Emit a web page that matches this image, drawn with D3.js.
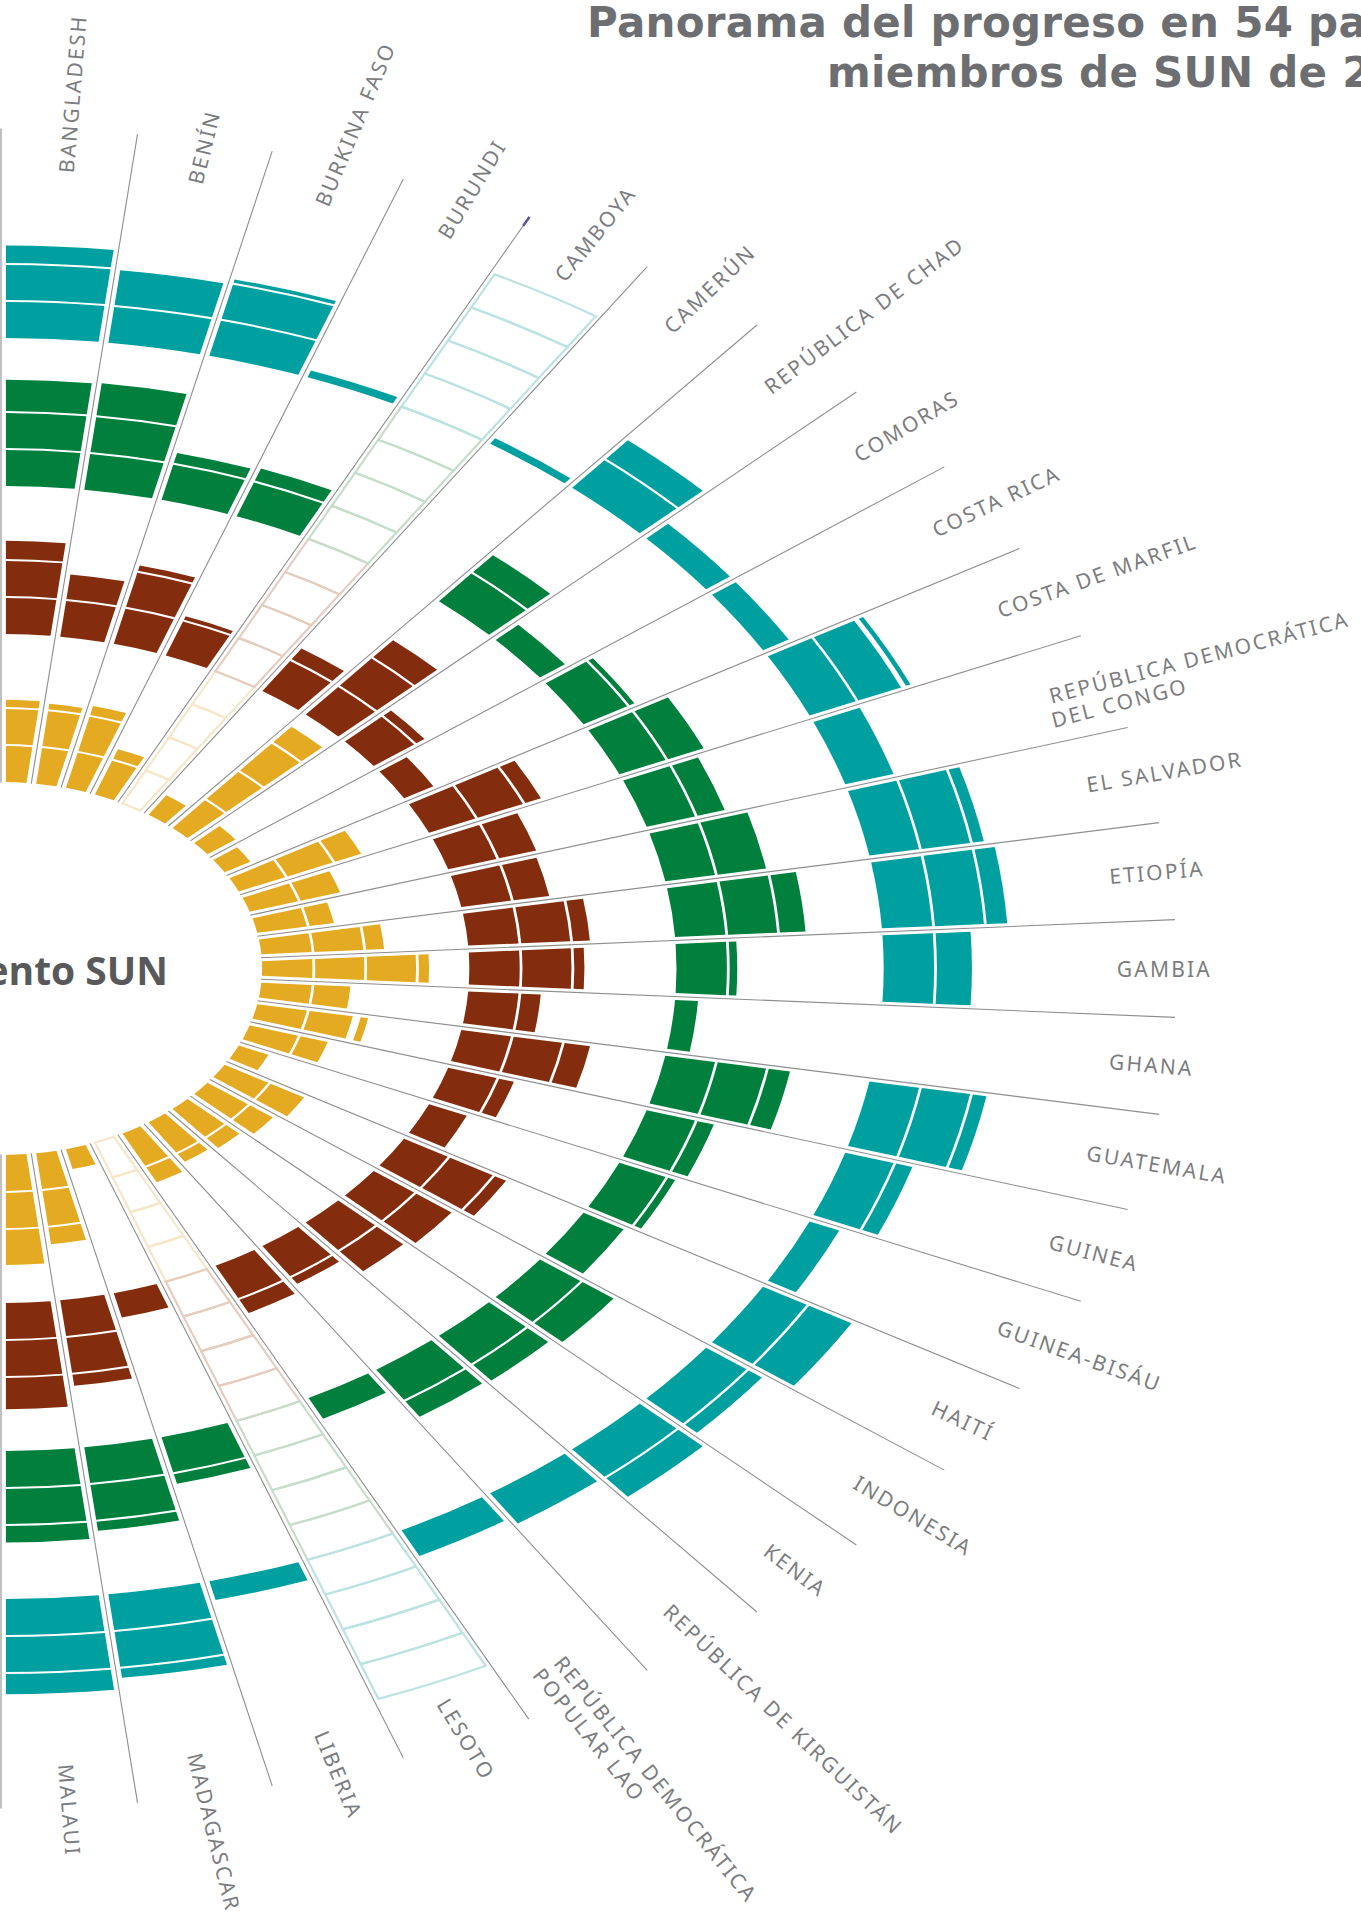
<!DOCTYPE html>
<html>
<head>
<meta charset="utf-8">
<script src="https://cdn.jsdelivr.net/npm/d3@7"></script>
<style>
  body { margin: 0; background: #fff; }
  svg { display: block; }
</style>
</head>
<body>
<div id="chart"></div>
<script>
// Countries, clockwise from the top (right half of the 54-country wheel).
const countries = [
  "BANGLADESH", "BENÍN", "BURKINA FASO", "BURUNDI", "CAMBOYA", "CAMERÚN",
  "REPÚBLICA DE CHAD", "COMORAS", "COSTA RICA", "COSTA DE MARFIL",
  "REPÚBLICA DEMOCRÁTICA|DEL CONGO", "EL SALVADOR", "ETIOPÍA", "GAMBIA",
  "GHANA", "GUATEMALA", "GUINEA", "GUINEA-BISÁU", "HAITÍ", "INDONESIA",
  "KENIA", "REPÚBLICA DE KIRGUISTÁN", "REPÚBLICA DEMOCRÁTICA|POPULAR LAO",
  "LESOTO", "LIBERIA", "MADAGASCAR", "MALAUI"
];

// Progress markers per process (fraction of each marker reached, stacked outward).
// null = no data (drawn as empty outline).
const proceso1 = [ // yellow, inner ring
  [1, 1, 0.25], [1, 1, 0.2], [1, 1, 0.3], [1, 0.33], null, [0.65],
  [1, 1, 1, 0.6], [0.7], [0.6], [1, 1, 0.6], [1, 0.85], [1, 0.53],
  [1, 1, 0.4], [1, 1, 1, 0.25], [1, 0.75], [1, 0.9, 0.2], [1, 0.6], [0.65],
  [1, 0.8], [1, 0.6], [1, 0.4], [1, 0.3], [1, 0.5], null, [0.58],
  [1, 1, 0.5], [1, 1, 1]
];
const proceso2 = [ // brown
  [1, 1, 0.55], [1, 0.72], [1, 1, 0.2], [1, 0.15], null, [1, 0.4],
  [1, 1, 0.65], [1, 0.25], [0.68], [1, 1, 0.38], [1, 0.8], [1, 0.75],
  [1, 1, 0.38], [1, 1, 0.25], [1, 0.43], [1, 1, 0.55], [1, 0.35], [0.82],
  [1, 1, 0.3], [1, 0.9], [1, 0.75], [1, 0.25], [1, 0.45], null, [0.7],
  [1, 1, 0.35], [1, 1, 0.9]
];
const proceso3 = [ // green
  [1, 1, 0.9], [1, 1, 0.92], [1, 0.33], [1, 0.4], null, [],
  [1, 0.65], [0.63], [1, 0.16], [1, 0.8], [1, 0.6], [1, 1],
  [1, 1, 0.55], [1, 0.2], [0.47], [1, 1, 0.47], [1, 0.38], [1, 0.2],
  [0.92], [1, 0.8], [1, 0.6], [1, 0.55], [0.65], null, [1, 0.32],
  [1, 1, 0.3], [1, 1, 0.5]
];
const proceso4 = [ // teal, outer ring
  [1, 1, 0.53], [1, 1], [1, 1, 0.15], [0.22], null, [0.2],
  [1, 0.7], [0.6], [0.6], [1, 0.95, 0.15], [1], [1, 1, 0.27],
  [1, 1, 0.45], [1, 0.73], [], [1, 1, 0.32], [1, 0.38], [0.65],
  [1, 1], [1, 0.37], [1, 0.7], [1], [0.8], null, [0.55],
  [1, 1, 0.3], [1, 1, 0.6]
];

const width = 1361;
const height = 1925;
const cx = 1;
const cy = 968.5;
const stretch = 1.4; // the wheel is drawn as a horizontally stretched circle

const svg = d3.select("#chart")
  .append("svg")
  .attr("width", width)
  .attr("height", height);

// Scales: one band per country over half a turn, 16 marker slots along the radius.
const angle = d3.scaleBand().domain(countries).range([0, Math.PI]);
const radius = d3.scaleLinear().domain([0, 16]).range([186.5, 778.5]);

const processes = [
  { values: proceso1, color: "#e3aa22", light: "#f6e7c8" },
  { values: proceso2, color: "#832d0e", light: "#e5cdbf" },
  { values: proceso3, color: "#007f3d", light: "#c7ddcb" },
  { values: proceso4, color: "#00a0a1", light: "#bde2e2" },
];

const plot = svg.append("g")
  .attr("transform", `translate(${cx},${cy}) scale(${stretch},1)`);

const arc = d3.arc().padRadius(200).padAngle(7 / 200);

// Cells.
processes.forEach((p, pi) => {
  countries.forEach((c, ci) => {
    const a0 = angle(c);
    const a1 = a0 + angle.bandwidth();
    const cells = p.values[ci];

    if (cells === null) {
      // No data: empty outlined cells.
      d3.range(4).forEach((k) => {
        plot.append("path")
          .attr("d", arc({
            innerRadius: radius(pi * 4 + k),
            outerRadius: radius(pi * 4 + k + 1),
            startAngle: a0,
            endAngle: a1,
          }))
          .attr("fill", "none")
          .attr("stroke", p.light)
          .attr("stroke-width", 2.2)
          .attr("vector-effect", "non-scaling-stroke");
      });
      return;
    }

    cells.forEach((v, k) => {
      const r0 = radius(pi * 4 + k) + (k ? 1 : 0);
      const r1 = Math.max(r0 + 1.5, radius(pi * 4 + k + v) - 1);
      plot.append("path")
        .attr("d", arc({ innerRadius: r0, outerRadius: r1, startAngle: a0, endAngle: a1 }))
        .attr("fill", p.color);
    });
  });
});

// Separator lines between countries.
const edges = d3.range(countries.length + 1).map((i) => i * angle.bandwidth());
const radial = d3.lineRadial();
plot.selectAll(".sep")
  .data(edges)
  .join("path")
  .attr("class", "sep")
  .attr("d", (a) => radial([[a, 186], [a, 840]]))
  .attr("fill", "none")
  .attr("stroke", "#8e8e8e")
  .attr("stroke-width", 1.1)
  .attr("vector-effect", "non-scaling-stroke");

// Small stray mark at the end of one separator, as in the original.
plot.append("path")
  .attr("d", radial([[edges[4], 831], [edges[4], 841]]))
  .attr("stroke", "#5a4ea0")
  .attr("stroke-width", 2.5)
  .attr("vector-effect", "non-scaling-stroke");

// Country labels, rotated along their (stretched) radial direction.
const labelR = 797;
countries.forEach((c) => {
  const a = angle(c) + angle.bandwidth() / 2;
  const dx = stretch * Math.sin(a);
  const dy = -Math.cos(a);
  const x = cx + labelR * dx;
  const y = cy + labelR * dy;
  const rot = Math.atan2(dy, dx) * 180 / Math.PI;
  const lines = c.split("|");
  const t = svg.append("text")
    .attr("transform", `translate(${x},${y}) rotate(${rot})`)
    .attr("font-family", "'Noto Sans', sans-serif")
    .attr("font-size", 21)
    .attr("letter-spacing", 2.2)
    .attr("fill", "#7c7d80");
  lines.forEach((ln, li) => {
    t.append("tspan")
      .attr("x", li ? -4 : 0)
      .attr("y", li * 24)
      .attr("dominant-baseline", "central")
      .text(ln);
  });
});

// Centre text (mostly off the page on the left).
svg.append("text")
  .attr("x", 168)
  .attr("y", 985)
  .attr("text-anchor", "end")
  .attr("font-family", "'Open Sans', sans-serif")
  .attr("font-weight", 700)
  .attr("font-size", 39)
  .attr("fill", "#58595b")
  .text("Movimiento SUN");

// Title (cut by the right edge).
const titleLines = [
  { text: "Panorama del progreso en 54 países", x: 587, y: 37 },
  { text: "miembros de SUN de 2016", x: 827, y: 87 },
];
const title = svg.append("g")
  .attr("font-family", "'DejaVu Sans', sans-serif")
  .attr("font-weight", 700)
  .attr("font-size", 42)
  .attr("fill", "#6d6e71");
// Fit the letter spacing so "Panorama del progreso en 54 pa" spans ~780px.
const probe = title.append("text").text("Panorama del progreso en 54 pa");
const natural = probe.node().getComputedTextLength();
probe.remove();
const spacing = Math.max(-1, Math.min(3, (780 - natural) / 30));
title.selectAll("text.t")
  .data(titleLines)
  .join("text")
  .attr("class", "t")
  .attr("x", (d) => d.x)
  .attr("y", (d) => d.y)
  .attr("letter-spacing", spacing)
  .text((d) => d.text);
</script>
</body>
</html>
